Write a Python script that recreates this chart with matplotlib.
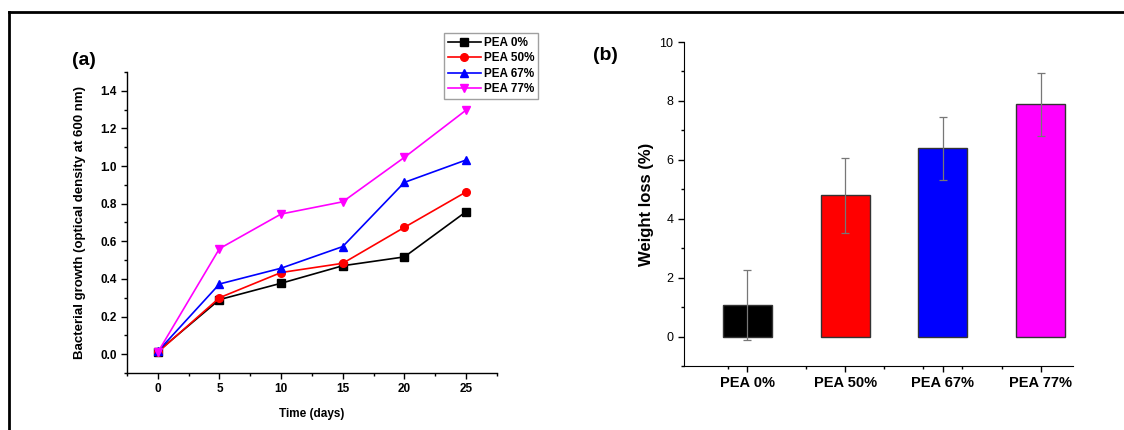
import numpy as np
import matplotlib.pyplot as plt
from matplotlib.lines import Line2D
from matplotlib.ticker import MultipleLocator

plt.rcParams['font.family'] = ['Liberation Sans', 'DejaVu Sans']

# (a) bacterial growth vs time
days = [0, 5, 10, 15, 20, 25]
pea_0 = [0.014, 0.29, 0.377, 0.47, 0.517, 0.757]
pea_50 = [0.010, 0.30, 0.434, 0.483, 0.674, 0.862]
pea_67 = [0.015, 0.373, 0.457, 0.572, 0.913, 1.032]
pea_77 = [0.010, 0.561, 0.745, 0.81, 1.046, 1.297]
series_labels = ['PEA 0%', 'PEA 50%', 'PEA 67%', 'PEA 77%']

# (b) weight loss
bar_labels = ['PEA 0%', 'PEA 50%', 'PEA 67%', 'PEA 77%']
weight_loss = [1.08, 4.79, 6.39, 7.88]
weight_err = [1.18, 1.27, 1.08, 1.06]

colors = ['black', 'red', 'blue', 'magenta']
markers = ['s', 'o', '^', 'v']

fig = plt.figure(figsize=(11.24, 4.30), dpi=100)

# ---------------- panel (a) ----------------
ax1 = fig.add_axes([0.113, 0.1326, 0.329, 0.70])
for ys, lab, c, m in zip([pea_0, pea_50, pea_67, pea_77], series_labels, colors, markers):
    ax1.plot(days, ys, color=c, marker=m, markersize=5.5, linewidth=1.2, label=lab)

ax1.set_xlim(-2.5, 27.5)
ax1.set_ylim(-0.1, 1.5)
ax1.set_xticks(days)
ax1.set_yticks(np.arange(0, 1.41, 0.2))
ax1.xaxis.set_minor_locator(MultipleLocator(2.5))
ax1.yaxis.set_minor_locator(MultipleLocator(0.1))
ax1.yaxis.set_major_formatter(plt.FormatStrFormatter('%.1f'))
for s in ['top', 'right']:
    ax1.spines[s].set_visible(False)
for s in ['left', 'bottom']:
    ax1.spines[s].set_linewidth(1.0)
ax1.tick_params(which='major', direction='out', length=4, width=1, labelsize=8.5)
ax1.tick_params(which='minor', direction='out', length=2, width=1)
for t in ax1.get_xticklabels() + ax1.get_yticklabels():
    t.set_fontweight('bold')
ax1.set_xlabel('Time (days)', fontsize=8.5, fontweight='bold', labelpad=9)
ax1.set_ylabel('Bacterial growth (optical density at 600 nm)', fontsize=9.5,
               fontweight='bold', labelpad=10)

leg = ax1.legend(loc='upper left', bbox_to_anchor=(0.395, 0.923),
                 bbox_transform=fig.transFigure, fontsize=8.5, frameon=True,
                 fancybox=False, handlelength=2.8, handletextpad=0.3,
                 borderpad=0.3, labelspacing=0.3, borderaxespad=0)
leg.get_frame().set_edgecolor('#888888')
leg.get_frame().set_linewidth(1.0)
for t in leg.get_texts():
    t.set_fontweight('bold')

fig.text(0.064, 0.86, '(a)', fontsize=14, fontweight='bold', ha='left', va='center')

# ---------------- panel (b) ----------------
ax2 = fig.add_axes([0.6085, 0.1488, 0.346, 0.7535])
xpos = np.arange(len(bar_labels))
ax2.bar(xpos, weight_loss, width=0.5, color=colors, edgecolor='#333333', linewidth=1.0,
        yerr=weight_err, error_kw=dict(ecolor='#777777', elinewidth=0.9, capsize=3,
                                       capthick=0.9))
ax2.set_xlim(-0.65, 3.33)
ax2.set_ylim(-1, 10)
ax2.set_xticks(xpos)
ax2.set_xticklabels(bar_labels)
ax2.set_xticks([-0.2, 0.6, 1.4, 1.8, 2.2, 2.6], minor=True)
ax2.set_yticks(np.arange(0, 11, 2))
ax2.yaxis.set_minor_locator(MultipleLocator(1))
for s in ['top', 'right']:
    ax2.spines[s].set_visible(False)
ax2.tick_params(which='major', direction='out', length=4, width=1)
ax2.tick_params(which='minor', direction='out', length=2.5, width=1)
ax2.tick_params(axis='y', labelsize=9)
ax2.tick_params(axis='x', labelsize=10.5, pad=3)
for t in ax2.get_xticklabels():
    t.set_fontweight('bold')
ax2.set_ylabel('Weight loss (%)', fontsize=12, fontweight='bold', labelpad=4)

fig.text(0.528, 0.872, '(b)', fontsize=14, fontweight='bold', ha='left', va='center')

# outer frame (top and left edges)
fig.add_artist(Line2D([0.008, 1.0], [0.972, 0.972], color='black', linewidth=2,
                      transform=fig.transFigure))
fig.add_artist(Line2D([0.008, 0.008], [0.0, 0.972], color='black', linewidth=2,
                      transform=fig.transFigure))

fig.savefig('out.png', dpi=100)
